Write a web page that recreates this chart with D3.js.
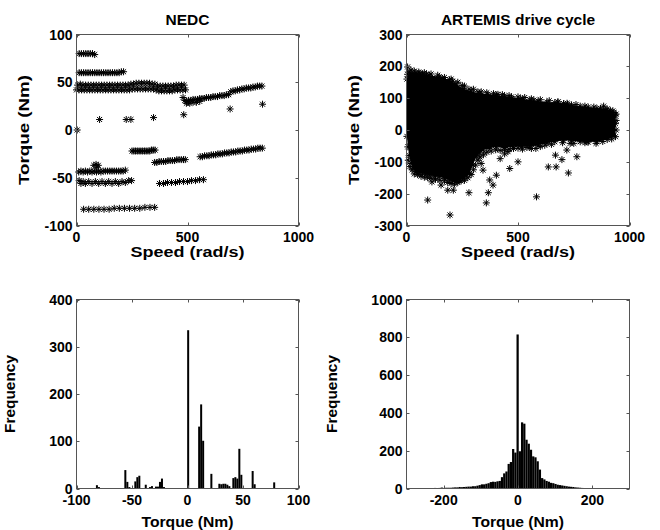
<!DOCTYPE html>
<html>
<head>
<meta charset="utf-8">
<script src="https://cdn.jsdelivr.net/npm/d3@7"></script>
<style>
body { margin: 0; background: #fff; }
text { font-family: "Liberation Sans", Arial, sans-serif; font-weight: bold; fill: #000; }
</style>
</head>
<body>
<div id="wrapper"></div>
<script>
// NEDC operating points (speed rad/s, torque Nm)
var nedcPoints = [
  [12,80],[22,80],[32,80],[42,80],[52,80],[62,80],[72,80],[82,79],
  [12,60],[22,60],[32,60],[42,60],[52,60],[62,60],[72,60],[82,60],[92,60],[102,60],[112,60],[122,60],
  [132,60],[142,60],[152,60],[162,60],[172,60],[182,60],[192,60],[202,61],[212,61],
  [5,47],[17,48],[29,47],[41,47],[53,47],[65,47],[77,47],[89,47],[101,47],[113,47],[125,47],[137,47],
  [149,47],[161,47],[173,47],[185,47],[197,47],[209,47],[221,47],[233,47],[245,48],[257,48],[269,49],
  [281,49],[293,49],[305,49],[317,49],[329,49],[341,48],[353,48],[365,46],[377,46],[389,46],[401,46],
  [413,46],[425,46],[437,46],[449,47],[461,47],[473,47],[485,47],
  [0,42],[11,42],[23,42],[35,42],[47,42],[59,42],[71,42],[83,42],[95,42],[107,42],[119,42],[131,42],
  [143,42],[155,42],[167,42],[179,42],[191,42],[203,42],[215,42],[227,42],[239,42],[251,43],[263,43],
  [275,43],[287,43],[299,43],[311,43],[323,43],[335,43],[347,43],[359,42],[371,41],[383,41],[395,41],
  [407,41],[419,41],[431,41],[443,42],[455,42],[467,42],[479,42],[491,42],
  [480,34],[488,31],[496,30],[505,31],[515,31],[525,32],[535,32],[545,32],[555,33],[565,33],[575,33],
  [585,34],[595,34],[605,34],[615,35],[625,35],[635,35],[645,36],[655,36],[665,36],[675,37],[685,37],
  [495,28],[510,28],[525,29],[540,29],[555,30],
  [695,40],[705,41],[715,41],[725,42],[735,42],[745,43],[755,43],[765,44],[775,44],[785,44],[795,45],
  [805,45],[815,46],[825,46],[835,46],
  [3,0],[104,11],[224,11],[245,11],[347,13],[483,16],[692,22],[838,27],
  [250,-22],[258,-22],[266,-22],[274,-22],[282,-22],[290,-22],[298,-22],[306,-22],[314,-22],[322,-22],
  [330,-22],[338,-21],[346,-21],[354,-21],
  [352,-34],[362,-34],[372,-33],[382,-33],[392,-33],[402,-33],[412,-32],[422,-32],[432,-32],[442,-32],
  [452,-31],[462,-31],[472,-31],[482,-31],[490,-31],
  [557,-28],[567,-28],[577,-27],[587,-27],[597,-27],[607,-26],[617,-26],[627,-26],[637,-25],[647,-25],
  [657,-25],[667,-24],[677,-24],[687,-24],[697,-23],[707,-23],[717,-23],[727,-22],[737,-22],[747,-22],
  [757,-21],[767,-21],[777,-21],[787,-20],[797,-20],[807,-20],[817,-19],[827,-19],[837,-19],
  [10,-44],[20,-43],[30,-44],[40,-43],[50,-44],[60,-43],[70,-44],[80,-43],[90,-44],[100,-43],[110,-44],
  [120,-43],[130,-43],[140,-43],[150,-43],[160,-43],[170,-43],[180,-43],[190,-43],[200,-43],[210,-43],
  [220,-42],[78,-37],[88,-36],[98,-37],[92,-39],
  [12,-53],[30,-54],[55,-54],[85,-54],[115,-54],[145,-54],[175,-54],[205,-54],[235,-53],[248,-53],
  [20,-56],[40,-56],[70,-56],[100,-56],[130,-56],[160,-56],[190,-56],[220,-55],
  [374,-56],[392,-56],[410,-55],[428,-55],[446,-55],[464,-54],[482,-54],[500,-54],[518,-53],[536,-53],
  [554,-52],[572,-52],
  [32,-83],[55,-83],[78,-83],[101,-83],[124,-83],[147,-83],[170,-82],[193,-82],[216,-82],[239,-82],
  [262,-82],[285,-82],[308,-81],[331,-81],[352,-81]
]

// ARTEMIS: outline of the solid cloud (upper edge left->right, lower edge right->left)
var artemisUpper = [
  [2,160],[12,183],[42,180],[72,176],[102,172],[147,167],[192,158],[222,145],[253,130],[290,122],
  [328,115],[365,112],[403,110],[440,107],[471,104],[512,99],[553,94],[590,91],[629,88],[665,86],
  [704,83],[740,79],[779,75],[815,72],[854,68],[890,65],[914,62],[930,55],[937,47]
]
var artemisLower = [
  [937,20],[937,-21],[900,-30],[854,-37],[815,-38],[779,-37],[740,-34],[704,-32],[665,-37],[629,-42],
  [590,-48],[553,-53],[515,-53],[478,-53],[440,-55],[403,-53],[370,-58],[343,-63],[328,-72],[313,-84],
  [298,-110],[283,-136],[268,-145],[253,-152],[238,-158],[223,-162],[207,-160],[192,-157],[170,-152],
  [147,-147],[125,-145],[102,-142],[87,-139],[72,-136],[57,-134],[42,-131],[30,-120],[20,-105],
  [12,-80],[6,-53],[2,-20]
]
// ARTEMIS: ragged points along the edge of the cloud
var artemisFringe = [
  [5,175],[20,188],[35,185],[55,182],[80,180],[110,176],[140,172],[170,165],[200,160],[230,150],
  [260,138],[280,128],[320,120],[360,117],[390,114],[430,111],[460,108],[500,104],[530,102],[560,98],
  [600,95],[640,92],[680,88],[720,84],[760,80],[800,75],[840,72],[870,68],[900,66],[925,60],[940,50],
  [8,-95],[15,-115],[25,-125],[35,-138],[50,-140],[65,-145],[80,-148],[95,-150],[110,-152],[130,-155],
  [150,-158],[170,-160],[185,-165],[200,-168],[215,-170],[230,-165],[245,-160],[260,-158],[275,-150],
  [290,-140],[300,-125],[310,-110],[320,-95],[330,-85],[345,-78],[360,-70],[380,-66],[400,-62],
  [420,-64],[440,-62],[460,-60],[480,-58],[500,-57],[540,-55],[560,-58],[600,-52],[620,-48],[650,-45],
  [700,-40],[750,-42],[800,-40],[850,-42],[880,-36],[920,-28],[940,0],[940,30]
]
// ARTEMIS: isolated points outside the cloud
var artemisOutliers = [
  [5,198],[42,156],[129,156],[207,153],[25,172],[60,178],[90,175],[160,162],[250,140],[300,128],
  [471,99],[571,94],[410,112],[335,120],[678,88],[722,81],[884,75],
  [95,-220],[114,-163],[155,-173],[185,-189],[210,-189],[215,-157],[195,-267],[280,-197],[358,-229],
  [367,-197],[388,-173],[373,-157],[343,-126],[335,-105],[403,-142],[463,-121],[500,-100],[583,-210],
  [636,-116],[671,-116],[668,-79],[697,-93],[719,-63],[726,-135],[764,-84],[580,-58],[689,-21],
  [734,-42],[809,-37],[440,-75],[455,-68],[520,-60],[420,-90]
]

// NEDC torque histogram
var nedcBinWidth = 1.8
var nedcBinCenters = [-81.6,-79.8,-56,-54.2,-52.4,-47,-45.2,-43.4,-37.6,-33.8,-32,-28.4,-26.6,-24.8,-23,-21.2,
  0.6,10.5,12.3,14.1,21.5,28.7,30.5,32.3,34.1,35.9,37.7,41.3,43.1,44.9,46.7,48.5,58.7,60.5,78.1]
var nedcBinCounts = [7,3,39,14,3,15,24,27,8,3,5,4,4,14,21,3,
  335,131,178,101,31,10,9,10,10,8,5,22,24,21,84,29,37,9,13]

// ARTEMIS torque histogram
var artemisBinWidth = 6
var artemisBinCenters = [-265,-259,-253,-247,-241,-235,-229,-223,-217,-211,-205,-199,-193,-187,-181,-175,
  -169,-163,-157,-151,-145,-139,-133,-127,-121,-115,-109,-103,-97,-91,-85,-79,-73,-67,-61,-55,-49,-43,
  -37,-31,-25,-19,-13,-7,-1,5,11,17,23,29,35,41,47,53,59,65,71,77,83,89,95,101,107,113,119,125,131,
  137,143,149,155,161,167,173,179,185,191,197]
var artemisBinCounts = [1,2,1,1,2,1,2,3,2,3,5,3,4,4,4,5,6,6,8,7,8,9,10,10,12,12,15,18,22,22,25,28,34,36,
  35,38,40,60,80,90,130,140,209,190,815,197,350,343,258,237,205,170,165,144,100,55,48,40,36,30,28,24,
  20,18,16,14,12,10,9,8,6,5,4,3,2,2,1,1]

// tick values
var nedcSpeedTicks = [0, 500, 1000]
var nedcTorqueTicks = [-100, -50, 0, 50, 100]
var artemisTorqueTicks = [-300, -200, -100, 0, 100, 200, 300]
var nedcFreqTicks = [0, 100, 200, 300, 400]
var artemisFreqTicks = [0, 200, 400, 600, 800, 1000]
var artemisHistTicks = [-200, 0, 200]

var svg = d3.select("#wrapper")
    .append("svg")
    .attr("width", 660)
    .attr("height", 530)

function makePanel(box, xDomain, yDomain, xTicks, yTicks, o) {
    var x = d3.scaleLinear().domain(xDomain).range([box.left, box.right])
    var y = d3.scaleLinear().domain(yDomain).range([box.bottom, box.top])
    var g = svg.append("g")
    var marks = g.append("g")
    var frame = g.append("g")

    frame.append("rect")
        .attr("x", box.left).attr("y", box.top)
        .attr("width", box.right - box.left).attr("height", box.bottom - box.top)
        .style("fill", "none").style("stroke", "#555").style("stroke-width", 1)

    // inward ticks on all four sides, like a boxed matlab axes
    xTicks.forEach(function(t) {
        var px = Math.round(x(t)) + 0.5
        frame.append("line").attr("x1", px).attr("x2", px).attr("y1", box.bottom).attr("y2", box.bottom - 3)
        frame.append("line").attr("x1", px).attr("x2", px).attr("y1", box.top).attr("y2", box.top + 3)
        frame.append("text").attr("x", x(t)).attr("y", box.bottom + 16)
            .attr("text-anchor", "middle").style("font-size", "14px").text(t)
    })
    yTicks.forEach(function(t) {
        var py = Math.round(y(t)) + 0.5
        frame.append("line").attr("y1", py).attr("y2", py).attr("x1", box.left).attr("x2", box.left + 3)
        frame.append("line").attr("y1", py).attr("y2", py).attr("x1", box.right).attr("x2", box.right - 3)
        frame.append("text").attr("x", box.left - 4).attr("y", y(t)).attr("dy", "0.36em")
            .attr("text-anchor", "end").style("font-size", "14px").text(t)
    })
    frame.selectAll("line").style("stroke", "#555").style("stroke-width", 1)

    if (o.title) {
        g.append("text").attr("x", (box.left + box.right) / 2).attr("y", 25)
            .attr("text-anchor", "middle").style("font-size", "15.5px").text(o.title)
    }
    g.append("text").attr("x", (box.left + box.right) / 2).attr("y", o.xLabelY)
        .attr("text-anchor", "middle").style("font-size", "14.5px")
        .attr("textLength", o.xLabelLen).attr("lengthAdjust", "spacingAndGlyphs")
        .text(o.xLabel)
    var cy = (box.top + box.bottom) / 2
    g.append("text").attr("transform", "translate(" + o.yLabelX + "," + cy + ") rotate(-90)")
        .attr("text-anchor", "middle").style("font-size", "14.5px")
        .attr("textLength", o.yLabelLen).attr("lengthAdjust", "spacingAndGlyphs")
        .text(o.yLabel)

    return { x: x, y: y, marks: marks }
}

function asterisk(r) {
    var d = r * 0.72
    return "M" + (-r) + ",0H" + r + "M0," + (-r) + "V" + r +
        "M" + (-d) + "," + (-d) + "L" + d + "," + d + "M" + (-d) + "," + d + "L" + d + "," + (-d)
}

function drawStars(p, data, r) {
    p.marks.append("g").selectAll("path")
        .data(data)
        .enter()
        .append("path")
        .attr("d", asterisk(r))
        .attr("transform", d => "translate(" + p.x(d[0]) + "," + p.y(d[1]) + ")")
        .style("fill", "none")
        .style("stroke", "#000")
        .style("stroke-width", 1)
}

function drawHist(p, centers, counts, w) {
    var bins = centers.map((c, i) => ({ c: c, n: counts[i] }))
    p.marks.append("g").selectAll("rect")
        .data(bins)
        .enter()
        .append("rect")
        .attr("x", d => p.x(d.c - w / 2))
        .attr("width", d => Math.max(1, p.x(d.c + w / 2) - p.x(d.c - w / 2)))
        .attr("y", d => p.y(d.n))
        .attr("height", d => p.y(0) - p.y(d.n))
        .style("fill", "#000")
}

// top left: NEDC scatter
var p1 = makePanel({ left: 76.5, right: 298.5, top: 34.5, bottom: 225.5 },
    [0, 1000], [-100, 100], nedcSpeedTicks, nedcTorqueTicks,
    { title: "NEDC", xLabel: "Speed (rad/s)", xLabelY: 257, xLabelLen: 114,
      yLabel: "Torque (Nm)", yLabelX: 28.5, yLabelLen: 110 })
drawStars(p1, nedcPoints, 3.5)

// top right: ARTEMIS scatter
var p2 = makePanel({ left: 406.5, right: 629.5, top: 34.5, bottom: 225.5 },
    [0, 1000], [-300, 300], nedcSpeedTicks, artemisTorqueTicks,
    { title: "ARTEMIS drive cycle", xLabel: "Speed (rad/s)", xLabelY: 257, xLabelLen: 114,
      yLabel: "Torque (Nm)", yLabelX: 358.5, yLabelLen: 110 })
var cloud = artemisUpper.concat(artemisLower)
p2.marks.append("path")
    .datum(cloud)
    .attr("d", d3.line().x(d => p2.x(d[0])).y(d => p2.y(d[1])).curve(d3.curveLinearClosed))
    .style("fill", "#000")
drawStars(p2, cloud, 3.5)
drawStars(p2, artemisFringe, 3.5)
drawStars(p2, artemisOutliers, 3.5)

// bottom left: NEDC histogram
var p3 = makePanel({ left: 76.5, right: 298.5, top: 299.5, bottom: 488.5 },
    [-100, 100], [0, 400], nedcTorqueTicks, nedcFreqTicks,
    { xLabel: "Torque (Nm)", xLabelY: 526.5, xLabelLen: 92,
      yLabel: "Frequency", yLabelX: 15, yLabelLen: 78 })
drawHist(p3, nedcBinCenters, nedcBinCounts, nedcBinWidth)

// bottom right: ARTEMIS histogram
var p4 = makePanel({ left: 406.5, right: 629.5, top: 299.5, bottom: 488.5 },
    [-300, 300], [0, 1000], artemisHistTicks, artemisFreqTicks,
    { xLabel: "Torque (Nm)", xLabelY: 526.5, xLabelLen: 92,
      yLabel: "Frequency", yLabelX: 337, yLabelLen: 78 })
drawHist(p4, artemisBinCenters, artemisBinCounts, artemisBinWidth)
</script>
</body>
</html>
